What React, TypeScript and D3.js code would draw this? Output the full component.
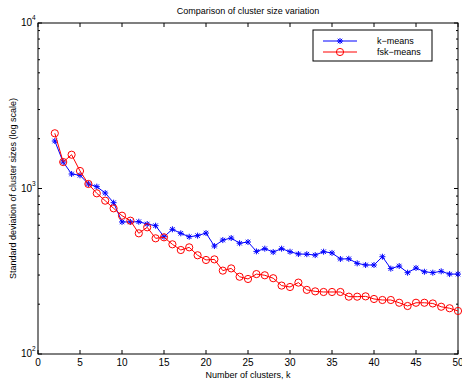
import React from "react";
import * as d3 from "d3";

const clusters = d3.range(2, 51);
const kmeans = [1936, 1445, 1224, 1202, 1065, 1026, 939, 821, 628, 628, 630, 610, 596, 511, 567, 536, 511, 519, 538, 449, 488, 502, 467, 475, 417, 433, 413, 433, 415, 402, 401, 396, 415, 408, 375, 376, 353, 345, 345, 387, 328, 340, 310, 331, 314, 310, 316, 304, 304];
const fskmeans = [2156, 1445, 1600, 1276, 1065, 935, 844, 759, 685, 639, 536, 583, 500, 507, 460, 425, 441, 395, 370, 373, 319, 329, 293, 284, 304, 299, 287, 259, 254, 270, 244, 239, 237, 237, 237, 222, 222, 223, 215, 212, 212, 204, 195, 204, 204, 202, 193, 189, 182];
const xTicks = [0, 5, 10, 15, 20, 25, 30, 35, 40, 45, 50];
const yMajor = [100, 1000, 10000];
const yExp = ["2", "3", "4"];
const seriesNames = ["k\u2212means", "fsk\u2212means"];
const title = "Comparison of cluster size variation";
const xLabel = "Number of clusters, k";
const yLabel = "Standard deviation of cluster sizes (log scale)";

export default function App() {
  const W = 462, H = 383;
  const L = 38, R = 458, T = 23, B = 354;
  const x = d3.scaleLinear().domain([0, 50]).range([L, R]);
  const y = d3.scaleLog().domain([100, 10000]).range([B, T]);
  const minor: number[] = [];
  [100, 1000].forEach((b) => { for (let i = 2; i <= 9; i++) minor.push(b * i); });
  const line = d3.line<number>().x((_, i) => x(clusters[i])).y((d) => y(d));
  const font = "Liberation Sans, Arial, sans-serif";
  const blue = "#0000ff", red = "#ff0000";
  const star = (cx: number, cy: number, c: string, key: any) => {
    const s = 3;
    return (
      <g key={key} stroke={c} strokeWidth={1}>
        <line x1={cx - s} y1={cy} x2={cx + s} y2={cy} />
        <line x1={cx} y1={cy - s} x2={cx} y2={cy + s} />
        <line x1={cx - s * 0.75} y1={cy - s * 0.75} x2={cx + s * 0.75} y2={cy + s * 0.75} />
        <line x1={cx - s * 0.75} y1={cy + s * 0.75} x2={cx + s * 0.75} y2={cy - s * 0.75} />
      </g>
    );
  };
  const circ = (cx: number, cy: number, c: string, key: any) => (
    <circle key={key} cx={cx} cy={cy} r={3.6} fill="none" stroke={c} strokeWidth={1} />
  );
  const tk = 4;
  return (
    <svg width={W} height={H} style={{ position: "absolute", left: 0, top: 0, background: "#fff" }} fontFamily={font}>
      <rect x={0} y={0} width={W} height={H} fill="#fff" />
      <text x={(L + R) / 2} y={14} fontSize={9} textAnchor="middle">{title}</text>
      {xTicks.map((t) => (
        <g key={"x" + t}>
          <line x1={x(t)} x2={x(t)} y1={B} y2={B - tk} stroke="#000" />
          <line x1={x(t)} x2={x(t)} y1={T} y2={T + tk} stroke="#000" />
          <text x={x(t)} y={B + 12} fontSize={10} textAnchor="middle">{t}</text>
        </g>
      ))}
      {yMajor.map((t, i) => (
        <g key={"y" + t}>
          <line x1={L} x2={L + tk} y1={y(t)} y2={y(t)} stroke="#000" />
          <line x1={R} x2={R - tk} y1={y(t)} y2={y(t)} stroke="#000" />
          <text x={L - 6} y={y(t) + 3} fontSize={10} textAnchor="end">10</text>
          <text x={L - 6} y={y(t) - 3} fontSize={6.5} textAnchor="start">{yExp[i]}</text>
        </g>
      ))}
      {minor.map((t) => (
        <g key={"m" + t}>
          <line x1={L} x2={L + 2} y1={y(t)} y2={y(t)} stroke="#000" />
          <line x1={R} x2={R - 2} y1={y(t)} y2={y(t)} stroke="#000" />
        </g>
      ))}
      <rect x={L} y={T} width={R - L} height={B - T} fill="none" stroke="#000" strokeWidth={1} />
      <path d={line(kmeans) || ""} fill="none" stroke={blue} strokeWidth={1} />
      {kmeans.map((v, i) => star(x(clusters[i]), y(v), blue, "s" + i))}
      <path d={line(fskmeans) || ""} fill="none" stroke={red} strokeWidth={1} />
      {fskmeans.map((v, i) => circ(x(clusters[i]), y(v), red, "c" + i))}
      <rect x={313} y={30} width={119} height={31} fill="#fff" stroke="#000" strokeWidth={1} />
      <line x1={323} x2={357} y1={41} y2={41} stroke={blue} />
      {star(340, 41, blue, "ls")}
      <line x1={323} x2={357} y1={52} y2={52} stroke={red} />
      {circ(340, 52, red, "lc")}
      <text x={377} y={44} fontSize={9}>{seriesNames[0]}</text>
      <text x={377} y={55} fontSize={9}>{seriesNames[1]}</text>
      <text x={(L + R) / 2} y={378} fontSize={9} textAnchor="middle">{xLabel}</text>
      <text transform={`translate(16,${(T + B) / 2}) rotate(-90)`} fontSize={9} textAnchor="middle">{yLabel}</text>
    </svg>
  );
}
